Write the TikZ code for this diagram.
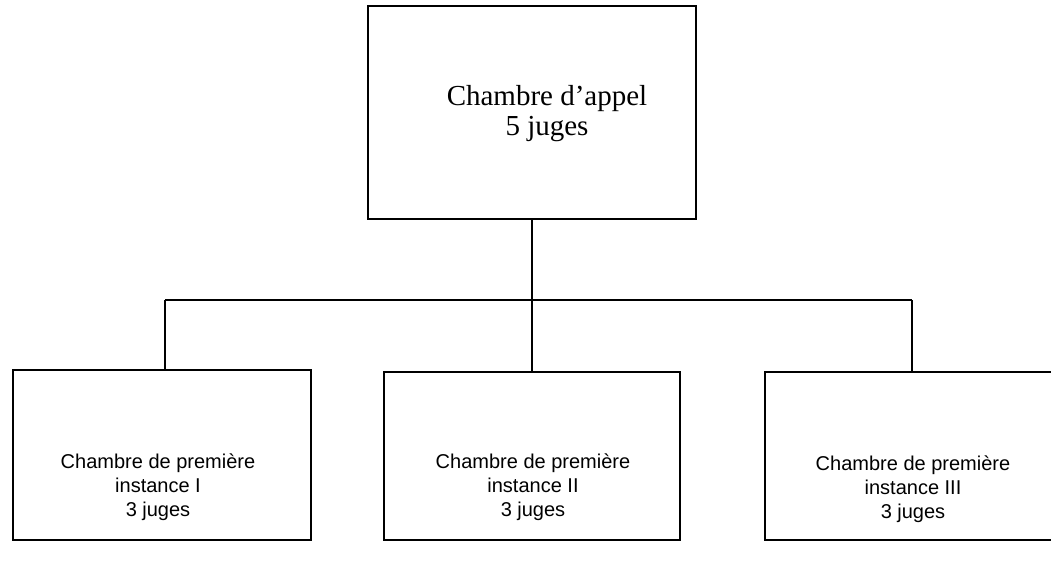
\documentclass[tikz,border=0pt]{standalone}
\usepackage{fontspec}
\setmainfont{Liberation Serif}
\newfontfamily\boxfont{Liberation Sans}
\begin{document}
\begin{tikzpicture}[x=1pt,y=-1pt,
  box/.style={draw=black,line width=1.5pt,fill=white,inner sep=0pt},
  conn/.style={draw=black,line width=1.5pt},
  toplabel/.style={align=center,font=\fontsize{29}{30}\selectfont,inner sep=0pt},
  lowlabel/.style={align=center,font=\boxfont\fontsize{20}{24}\selectfont,inner sep=0pt}]
\useasboundingbox (0,0) rectangle (1051,569);
\fill[white] (0,0) rectangle (1051,569);
% boxes
\node[box,minimum width=328pt,minimum height=213pt] (top) at (532,112.5) {};
\node[box,minimum width=298pt,minimum height=170pt] (b1) at (162,455) {};
\node[box,minimum width=296pt,minimum height=168pt] (b2) at (532,456) {};
\node[box,minimum width=296pt,minimum height=168pt] (b3) at (913,456) {};
% connectors
\coordinate (j) at (532,300);
\coordinate (l) at (165,300);
\coordinate (r) at (912,300);
\draw[conn] (top.south) -- (j);
\draw[conn] (l) -- (r);
\draw[conn] (l) -- (l |- b1.north);
\draw[conn] (j) -- (b2.north);
\draw[conn] (r) -- (r |- b3.north);
% labels
\node[toplabel] (tl) at (547,114) {Chambre d'appel\\5 juges};
\node[lowlabel] (l1) at (158,487) {Chambre de première\\instance I\\3 juges};
\node[lowlabel] (l2) at (533,487) {Chambre de première\\instance II\\3 juges};
\node[lowlabel] (l3) at (913,489) {Chambre de première\\instance III\\3 juges};
\end{tikzpicture}
\end{document}
